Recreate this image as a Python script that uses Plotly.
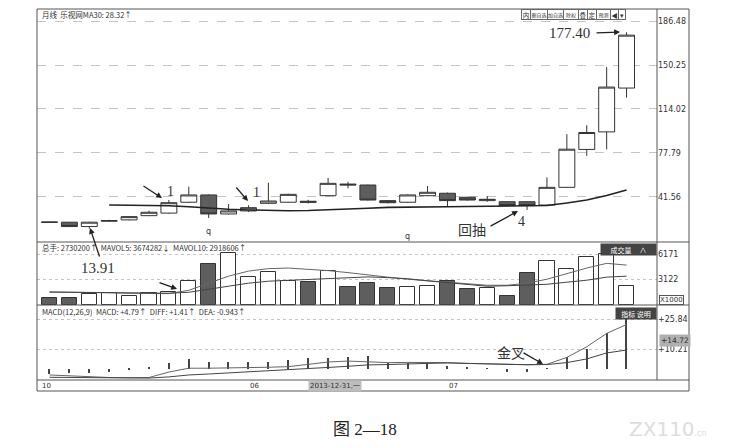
import plotly.graph_objects as go
from plotly.subplots import make_subplots

# 乐视网 月线, 30 根 K 线
opens  = [20.7, 20.5, 16.9, 21.3, 22.4, 25.9, 28.0, 37.0, 43.0, 27.3,
          29.8, 36.1, 37.0, 37.8, 42.4, 52.0, 51.2, 38.3, 37.0, 42.4,
          44.4, 41.1, 38.3, 37.4, 37.4, 34.7, 49.3, 80.6, 95.1, 131.3]
highs  = [20.8, 20.6, 20.8, 22.5, 25.5, 30.0, 38.8, 49.8, 43.5, 35.5,
          34.5, 53.1, 44.0, 39.0, 57.0, 53.9, 51.5, 38.8, 43.5, 50.4,
          45.0, 41.5, 42.1, 37.8, 37.8, 57.5, 93.2, 100.6, 148.6, 177.4]
lows   = [20.3, 16.5, 15.2, 20.8, 22.0, 25.5, 27.5, 36.5, 24.0, 26.8,
          29.0, 35.5, 36.5, 36.0, 42.0, 48.5, 38.3, 36.0, 36.5, 42.0,
          33.3, 38.3, 37.4, 33.8, 30.6, 34.2, 48.8, 75.3, 80.6, 123.4]
closes = [20.4, 16.9, 20.5, 21.8, 25.1, 28.7, 36.6, 43.0, 27.3, 29.8,
          32.5, 38.0, 43.5, 37.0, 52.6, 51.3, 38.8, 36.6, 43.0, 45.2,
          38.3, 38.8, 39.4, 34.2, 34.2, 49.3, 80.8, 94.6, 132.1, 175.0]
ma_line = [None, None, None, 34.7, 34.6, 34.3, 34.1, 33.2, 32.0, 31.2,
           30.6, 30.2, 30.0, 30.2, 30.6, 31.2, 32.0, 32.7, 33.1, 33.3,
           33.3, 33.5, 33.7, 33.9, 34.0, 34.3, 36.4, 38.8, 42.5, 47.1]

# 成交量 (x1000)
volume  = [850, 880, 1300, 1420, 1090, 1420, 1540, 2900, 4920, 6330,
           3350, 3960, 2900, 2820, 4110, 2210, 2630, 2020, 2210, 2300,
           2900, 1940, 2090, 1090, 3840, 5320, 4320, 5840, 6170, 2300]
mavol5  = [1570, 1570, 1540, 1480, 1420, 1420, 1380, 1780, 2640, 3490,
           4100, 4400, 4470, 4340, 4160, 3920, 3610, 3370, 3120, 2940,
           2790, 2570, 2390, 2390, 2635, 3120, 3820, 4470, 5040, 4830]
mavol10 = [1570, 1560, 1550, 1520, 1480, 1450, 1420, 1540, 1900, 2330,
           2640, 2880, 3000, 3120, 3250, 3370, 3400, 3310, 3180, 2920,
           2700, 2450, 2270, 2330, 2390, 2510, 2760, 3000, 3370, 3490]

# MACD(12,26,9)
dif = [-3.1, -3.6, -4.1, -4.4, -4.5, -4.4, -1.6, 0.4, 0.4, 0.5,
       0.7, 0.9, 1.2, 2.3, 3.6, 4.1, 3.8, 3.3, 3.4, 3.5,
       3.3, 2.9, 2.6, 2.3, 2.2, 2.4, 6.0, 11.5, 18.4, 23.0]
dea = [-4.3, -4.4, -4.7, -4.7, -4.7, -4.7, -4.1, -3.1, -2.6, -2.1,
       -1.6, -1.0, -0.5, 0.0, 0.8, 1.4, 2.1, 2.3, 2.7, 2.9,
       3.1, 2.9, 2.6, 2.3, 2.2, 2.3, 3.3, 5.2, 8.3, 9.8]
macd_hist = [-2.6, -2.2, -2.2, -1.4, -0.6, 1.2, 2.9, 5.0, 3.8, 3.8,
             3.8, 3.8, 4.7, 5.5, 5.5, 6.4, 6.7, 3.3, 3.3, 2.9,
             1.7, 1.2, 0.5, -1.4, -1.4, 0.5, 6.0, 10.2, 18.5, 28.8]

price_ticks = [186.48, 150.25, 114.02, 77.79, 41.56]
vol_ticks = [6171, 3122]
macd_ticks = [25.84, 10.21]
date_labels = ["10", "06", "07"]
date_pos = [-0.5, 10, 20]

idx = list(range(len(opens)))
up = [c >= o for o, c in zip(opens, closes)]
vol_fill = ["#ffffff" if u else "#5e5e5e" for u in up]

# the page body adds an 8px margin, so the figure is drawn 8px smaller
PAGE = 8
L, R, T, B = 37, 657, 9, 380
def px(x):
    return (x - L) / (R - L)
def py(y):
    return (B - y) / (B - T)

SANS = "Noto Sans CJK SC"
SERIF = "Liberation Serif, Noto Sans CJK SC"
INK = "#333333"

fig = make_subplots(rows=3, cols=1, shared_xaxes=True, vertical_spacing=0)

fig.add_trace(go.Candlestick(
    x=idx, open=opens, high=highs, low=lows, close=closes,
    increasing=dict(line=dict(color=INK, width=1), fillcolor="#ffffff"),
    decreasing=dict(line=dict(color=INK, width=1), fillcolor="#5e5e5e"),
    whiskerwidth=0, showlegend=False, hoverinfo="skip"), row=1, col=1)
fig.add_trace(go.Scatter(x=idx, y=ma_line, mode="lines",
                         line=dict(color="#222222", width=1.6),
                         showlegend=False), row=1, col=1)

fig.add_trace(go.Bar(x=idx, y=volume, width=0.76,
                     marker=dict(color=vol_fill, line=dict(color=INK, width=1)),
                     showlegend=False), row=2, col=1)
fig.add_trace(go.Scatter(x=idx, y=mavol5, mode="lines",
                         line=dict(color="#666666", width=1), showlegend=False), row=2, col=1)
fig.add_trace(go.Scatter(x=idx, y=mavol10, mode="lines",
                         line=dict(color="#444444", width=1), showlegend=False), row=2, col=1)

fig.add_trace(go.Bar(x=idx, y=macd_hist, width=0.06, marker=dict(color="#444444", line_width=0),
                     showlegend=False), row=3, col=1)
fig.add_trace(go.Scatter(x=idx, y=dif, mode="lines",
                         line=dict(color="#666666", width=1), showlegend=False), row=3, col=1)
fig.add_trace(go.Scatter(x=idx, y=dea, mode="lines",
                         line=dict(color="#444444", width=1), showlegend=False), row=3, col=1)

fig.update_xaxes(range=[-0.628, 30.53], showticklabels=False, showgrid=False,
                 zeroline=False, showline=False, ticks="", rangeslider_visible=False)

axis_font = dict(family="DejaVu Sans", size=8, color=INK)
fig.update_layout(
    yaxis=dict(domain=[py(242), 1], range=[4.14, 196.6], side="right",
               tickvals=price_ticks, ticktext=[f"{v:.2f}" for v in price_ticks],
               showgrid=True, gridcolor="#c4c4c4", griddash="dash", gridwidth=1),
    yaxis2=dict(domain=[py(305), py(242)], range=[0, 7623], side="right",
                tickvals=vol_ticks, ticktext=[str(v) for v in vol_ticks],
                showgrid=True, gridcolor="#c4c4c4", griddash="dot"),
    yaxis3=dict(domain=[0, py(305)], range=[-5.7, 33.1], side="right",
                tickvals=macd_ticks, ticktext=[f"+{v:.2f}" for v in macd_ticks],
                showgrid=True, gridcolor="#c4c4c4", griddash="dot"),
)
fig.update_yaxes(zeroline=False, showline=False, ticks="", tickfont=axis_font)

fig.update_layout(
    width=742 - PAGE, height=448 - PAGE,
    margin=dict(l=L - PAGE, r=742 - R, t=T - PAGE, b=448 - B),
    paper_bgcolor="white", plot_bgcolor="white",
    showlegend=False, bargap=0, boxgap=0.2, boxgroupgap=0,
    font=dict(family=SANS, color=INK),
)

# frame
frame = dict(type="line", xref="paper", yref="paper", line=dict(color="#555555", width=1))
fig.add_shape(type="rect", xref="paper", yref="paper", x0=0, x1=px(689), y0=py(391), y1=1,
              line=dict(color="#555555", width=1))
fig.add_shape(**frame, x0=1, x1=1, y0=0, y1=1)
for yy in (242, 305, 380):
    fig.add_shape(**frame, x0=0, x1=px(689), y0=py(yy), y1=py(yy))

notes = []
def text(x, y, s, size=8, family=SANS, anchor="left", color=INK, **kw):
    notes.append(dict(x=px(x), y=py(y), xref="paper", yref="paper", text=s,
                      showarrow=False, xanchor=anchor, yanchor="middle",
                      font=dict(family=family, size=size, color=color), **kw))
def arrow(x0, y0, x1, y1):
    notes.append(dict(x=px(x1), y=py(y1), xref="paper", yref="paper", text="",
                      showarrow=True, ax=x0 - x1, ay=y0 - y1, arrowhead=2,
                      arrowsize=0.9, arrowwidth=1.3, arrowcolor="#222222"))

# panel headers
text(40, 14, "月线  乐视网MA30: 28.32↑", size=7.5)
text(40, 247, "总手: 2730200↑  MAVOL5: 3674282↓  MAVOL10: 2918606↑", size=7.5)
text(40, 311, "MACD(12,26,9)  MACD: +4.79↑  DIFF: +1.41↑  DEA: -0.943↑", size=7.5)

# toolbar
tools = ["内", "删自选", "加自选", "除权", "叠", "定", "预测", "◀", "▾"]
tool_x = [521, 530, 547, 563, 578, 587, 596, 610, 618]
tool_w = [8, 16, 15, 14, 8, 8, 13, 7, 6]
for s, x0, w in zip(tools, tool_x, tool_w):
    notes.append(dict(x=px(x0), y=py(9), xref="paper", yref="paper", text=s,
                      showarrow=False, xanchor="left", yanchor="top", width=w, height=9,
                      borderpad=0, bordercolor="#666666", borderwidth=1, bgcolor="white",
                      font=dict(family=SANS, size=5 if len(s) > 1 else 6.5, color=INK)))

# dark labels
for s, x0, x1, y0 in [("成交量     ∧", 602, 657, 243), ("指标 说明", 617, 657, 307)]:
    notes.append(dict(x=px(x1), y=py(y0), xref="paper", yref="paper", text=s,
                      showarrow=False, xanchor="right", yanchor="top",
                      width=x1 - x0 - 2, height=9, bgcolor="#444444",
                      font=dict(family=SANS, size=7, color="white")))
notes.append(dict(x=px(659), y=py(300), xref="paper", yref="paper", text="X1000",
                  showarrow=False, xanchor="left", yanchor="middle", borderpad=0,
                  bordercolor="#555555", borderwidth=1, bgcolor="white",
                  font=dict(family="DejaVu Sans", size=7, color=INK)))
notes.append(dict(x=px(659), y=py(340), xref="paper", yref="paper", text="+14.72",
                  showarrow=False, xanchor="left", yanchor="middle", width=28,
                  bgcolor="#b0b0b0", font=dict(family="DejaVu Sans", size=7.5, color=INK)))

# date row
for s, p in zip(date_labels, date_pos):
    notes.append(dict(x=p, y=py(385.5), xref="x3", yref="paper", text=s,
                      showarrow=False, xanchor="left", yanchor="middle",
                      font=dict(family="DejaVu Sans", size=7, color=INK)))
text(308, 385.5, "2013-12-31,一", size=7, family="DejaVu Sans, Noto Sans CJK SC",
     bgcolor="#bdbdbd")

# event markers
text(208, 232, "q", size=8, anchor="center", family="DejaVu Sans")
text(407, 236, "q", size=8, anchor="center", family="DejaVu Sans")

# callouts
text(592, 33, "177.40", size=15, family=SERIF, anchor="right")
arrow(595, 33, 620, 32)
arrow(142, 185, 162, 198)
text(165, 191, "1", size=14, family=SERIF)
arrow(235, 186, 248, 201)
text(251, 192, "1", size=14, family=SERIF)
text(98, 268, "13.91", size=15, family=SERIF, anchor="center")
arrow(100, 258, 90, 228)
arrow(158, 282, 177, 289)
text(472, 229, "回抽", size=14, anchor="center")
arrow(489, 227, 518, 211)
text(521, 221, "4", size=14, family=SERIF, anchor="center")
text(511, 352, "金叉", size=14, anchor="center")
arrow(522, 352, 543, 364)

# caption and watermark
text(365, 430, "图 2—18", size=17, family=SERIF, anchor="center", color="#222222")
text(668, 429, "ZX110<span style='font-size:8px'>.cn</span>", size=20,
     family="DejaVu Sans", anchor="center", color="#dddddd")

fig.update_layout(annotations=notes)
fig.write_html("out.html")
